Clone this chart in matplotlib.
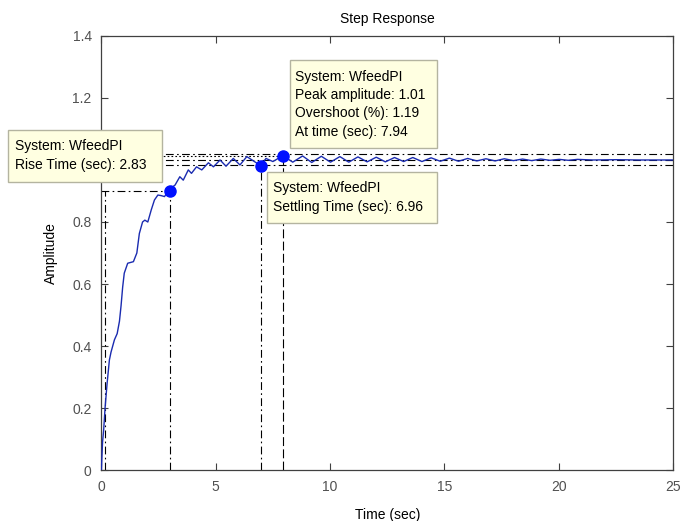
import matplotlib
matplotlib.use('Agg')
import matplotlib.pyplot as plt
from matplotlib.patches import Rectangle

plt.rcParams['font.family'] = ['Liberation Sans', 'DejaVu Sans']

# ---- step response curve ----
time = [0.0, 0.05, 0.10, 0.16, 0.25, 0.35, 0.42, 0.57, 0.69, 0.79, 0.86, 0.93,
        1.00, 1.15, 1.40, 1.55, 1.66, 1.80, 1.90, 2.03, 2.18, 2.32, 2.47, 2.62,
        2.76, 2.98, 3.22, 3.43, 3.58, 3.80, 3.94, 4.16, 4.39, 4.68, 4.90, 5.19,
        5.45, 5.77, 6.06, 6.36, 6.96, 7.20, 7.50, 7.94,
        8.37, 8.80, 9.20, 9.62, 10.02, 10.43, 10.82, 11.22, 11.62, 12.02,
        12.42, 12.82, 13.22, 13.62, 14.02, 14.42, 14.82, 15.22, 15.62, 16.02,
        16.42, 16.82, 17.22, 17.62, 18.02, 18.42, 18.82, 19.22, 19.62, 20.02,
        20.42, 20.82, 21.50, 22.50, 23.50, 25.00]
amplitude = [0.0, 0.09, 0.13, 0.20, 0.28, 0.355, 0.38, 0.42, 0.44, 0.48, 0.53, 0.59,
             0.635, 0.667, 0.672, 0.70, 0.763, 0.80, 0.806, 0.80, 0.839, 0.871, 0.887, 0.885,
             0.882, 0.906, 0.919, 0.946, 0.935, 0.968, 0.957, 0.978, 0.968, 0.991, 0.978, 1.000,
             0.980, 1.005, 0.984, 1.011, 0.982, 1.005, 0.995, 1.014,
             0.993, 1.013, 0.992, 1.012, 0.993, 1.011, 0.993, 1.010, 0.994, 1.009,
             0.994, 1.008, 0.995, 1.008, 0.995, 1.007, 0.996, 1.006, 0.996, 1.005,
             0.997, 1.004, 0.997, 1.004, 0.998, 1.003, 0.998, 1.003, 0.999, 1.002,
             0.999, 1.002, 1.000, 1.001, 1.000, 1.000]

# ---- characteristic points ----
rise_t10, rise_t90, rise_level = 0.15, 2.98, 0.90
settle_t, settle_y = 6.96, 0.982
peak_t, peak_y = 7.94, 1.014
final_value = 1.0
band_hi, band_lo = 1.018, 0.985

xticks = [0, 5, 10, 15, 20, 25]
yticks = [0, 0.2, 0.4, 0.6, 0.8, 1.0, 1.2, 1.4]
ytick_labels = ['0', '0.2', '0.4', '0.6', '0.8', '1', '1.2', '1.4']

boxes = [
    dict(rect=(8, 130, 162, 182), x=15, lines=[(146, 'System: WfeedPI'),
                                              (165, 'Rise Time (sec): 2.83')]),
    dict(rect=(290, 60, 437, 148), x=295, lines=[(77, 'System: WfeedPI'),
                                                (95, 'Peak amplitude: 1.01'),
                                                (113.5, 'Overshoot (%): 1.19'),
                                                (132, 'At time (sec): 7.94')]),
    dict(rect=(267, 172, 437, 223), x=273, lines=[(188.5, 'System: WfeedPI'),
                                                 (207, 'Settling Time (sec): 6.96')]),
]

W, H = 682, 521
fig = plt.figure(figsize=(W / 100, H / 100), dpi=100)
ax = fig.add_axes([101.4 / W, 51 / H, (673 - 101.4) / W, (470 - 36) / H])

lw = 0.8
dashdot = (0, (7, 3, 1.5, 3))
# horizontal reference lines
ax.axhline(final_value, color='k', lw=lw, ls=dashdot, zorder=2)
ax.axhline(band_hi, color='k', lw=lw, ls=dashdot, zorder=2)
ax.axhline(band_lo, color='k', lw=lw, ls=dashdot, zorder=2)
# rise time lines
ax.plot([0, rise_t90], [rise_level, rise_level], color='k', lw=lw, ls=dashdot, zorder=2)
ax.plot([rise_t10, rise_t10], [0, rise_level], color='k', lw=lw, ls=dashdot, zorder=2)
ax.plot([rise_t90, rise_t90], [0, rise_level], color='k', lw=lw, ls=dashdot, zorder=2)
# settling line
ax.plot([settle_t, settle_t], [0, settle_y], color='k', lw=lw, ls=dashdot, zorder=2)
# peak lines
ax.plot([0, peak_t], [peak_y, peak_y], color='k', lw=lw, ls=(0, (1.5, 2)), zorder=2)
ax.plot([peak_t, peak_t], [0, peak_y], color='k', lw=lw, ls=(0, (8, 3)), zorder=2)

# response
ax.plot(time, amplitude, color='#1a2bb0', lw=1.0, zorder=3)
ax.plot([rise_t90, settle_t, peak_t], [rise_level, settle_y, peak_y], 'o',
        color='#0010ff', ms=8, zorder=4)

ax.set_xlim(0, 25)
ax.set_ylim(0, 1.4)
ax.set_xticks(xticks)
ax.set_yticks(yticks)
ax.set_yticklabels(ytick_labels)
ax.tick_params(direction='in', length=5, width=0.8, top=True, right=True,
               labelsize=10, labelcolor='#505050', color='#404040', pad=7)
for s in ax.spines.values():
    s.set_color('#404040')
    s.set_linewidth(0.9)

ax.set_title('Step Response', fontsize=10, pad=9)
ax.set_xlabel('Time (sec)', fontsize=10, labelpad=10)
ax.set_ylabel('Amplitude', fontsize=10, labelpad=10)

for b in boxes:
    x0, y0, x1, y1 = b['rect']
    fig.patches.append(Rectangle((x0 / W, 1 - y1 / H), (x1 - x0) / W, (y1 - y0) / H,
                                 transform=fig.transFigure, facecolor='#ffffe1',
                                 edgecolor='#b4b4a0', lw=1.0, zorder=5))
    for yy, txt in b['lines']:
        fig.text(b['x'] / W, 1 - yy / H, txt, fontsize=10, va='center', ha='left',
                 color='black', zorder=6)

fig.savefig('out.png', dpi=100)
